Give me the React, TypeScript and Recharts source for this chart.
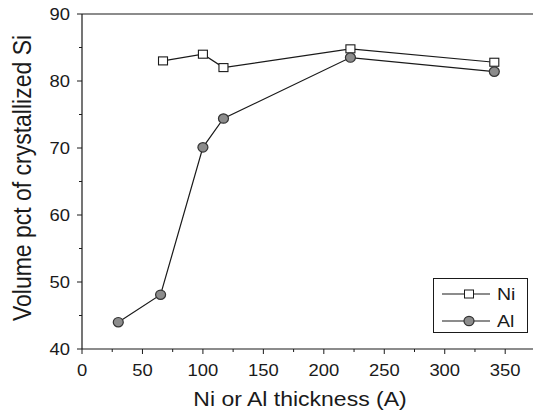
import React from 'react';
import { LineChart, Line, XAxis, YAxis, ReferenceLine, Label } from 'recharts';

const niThickness = [67, 100, 117, 222, 341];
const niVolume = [83.0, 84.0, 82.0, 84.8, 82.8];
const alThickness = [30, 65, 100, 117, 222, 341];
const alVolume = [44.0, 48.1, 70.1, 74.4, 83.5, 81.4];
const xTicks = [0, 25, 50, 75, 100, 125, 150, 175, 200, 225, 250, 275, 300, 325, 350];
const yTicks = [40, 45, 50, 55, 60, 65, 70, 75, 80, 85, 90];
const seriesNames = ['Ni', 'Al'];

const niData = niThickness.map((x, i) => ({ x, y: niVolume[i] }));
const alData = alThickness.map((x, i) => ({ x, y: alVolume[i] }));

const FONT = '"Liberation Sans", Arial, sans-serif';
const SX = 1.15; // the scan is stretched sideways a bit
const INK = '#1a1a1a';

const XTick = (props: any) => {
  const { x, y, payload } = props;
  const major = payload.value % 50 === 0;
  return (
    <g>
      <line x1={x} x2={x} y1={y} y2={y + (major ? 5 : 3)} stroke={INK} />
      {major && (
        <text transform={`translate(${x},${y + 27}) scale(${SX},1)`} textAnchor="middle" fontSize={16} fontFamily={FONT} fill={INK}>
          {payload.value}
        </text>
      )}
    </g>
  );
};

const YTick = (props: any) => {
  const { x, y, payload } = props;
  const major = payload.value % 10 === 0;
  return (
    <g>
      <line x1={x} x2={x - (major ? 5 : 3)} y1={y} y2={y} stroke={INK} />
      {major && (
        <text transform={`translate(${x - 12},${y + 6}) scale(${SX},1)`} textAnchor="end" fontSize={16} fontFamily={FONT} fill={INK}>
          {payload.value}
        </text>
      )}
    </g>
  );
};

const squareDot = (props: any) => (
  <rect key={`ni-${props.index}`} x={props.cx - 4.5} y={props.cy - 4} width={9} height={8} fill="#fff" stroke={INK} strokeWidth={1.1} />
);

const circleDot = (props: any) => (
  <ellipse key={`al-${props.index}`} cx={props.cx} cy={props.cy} rx={5} ry={4.7} fill="#8c8c8c" stroke="#333" strokeWidth={1.2} />
);

// legend box, drawn inside the svg
const LegendBox = () => (
  <g transform="translate(433,278)">
    <rect x={0.5} y={0.5} width={94} height={54} fill="#fff" stroke={INK} />
    <line x1={9} x2={57} y1={16} y2={16} stroke={INK} strokeWidth={1.2} />
    <rect x={31.5} y={12} width={9} height={8} fill="#fff" stroke={INK} />
    <text transform={`translate(64,22) scale(${SX},1)`} fontSize={17} fontFamily={FONT} fill={INK}>{seriesNames[0]}</text>
    <line x1={9} x2={57} y1={43} y2={43} stroke={INK} strokeWidth={1.2} />
    <ellipse cx={36} cy={43} rx={5} ry={4.7} fill="#8c8c8c" stroke="#333" strokeWidth={1.2} />
    <text transform={`translate(64,49) scale(${SX},1)`} fontSize={17} fontFamily={FONT} fill={INK}>{seriesNames[1]}</text>
  </g>
);

export default function App() {
  return (
    <div style={{ position: 'absolute', left: 0, top: 0, width: 533, height: 419, background: '#fff' }}>
      <LineChart width={533} height={419} margin={{ top: 14, right: 0, bottom: 0, left: 0 }}>
        <XAxis
          type="number"
          dataKey="x"
          domain={[0, 373]}
          ticks={xTicks}
          interval={0}
          allowDataOverflow
          height={70}
          tickSize={0}
          tickMargin={0}
          tickLine={false}
          axisLine={{ stroke: INK, strokeWidth: 1.2 }}
          tick={XTick}
        >
          <Label
            content={() => (
              <text transform={`translate(300,406) scale(${SX},1)`} textAnchor="middle" fontSize={20} fontFamily={FONT} fill={INK}>
                Ni or Al thickness (A)
              </text>
            )}
          />
        </XAxis>
        <YAxis
          type="number"
          domain={[40, 90]}
          ticks={yTicks}
          interval={0}
          width={82}
          tickSize={0}
          tickMargin={0}
          tickLine={false}
          axisLine={{ stroke: INK, strokeWidth: 1.2 }}
          tick={YTick}
        >
          <Label
            content={() => (
              <text transform={`translate(31,178) scale(${SX},1) rotate(-90)`} textAnchor="middle" fontSize={23} fontFamily={FONT} fill={INK}>
                Volume pct of crystallized Si
              </text>
            )}
          />
        </YAxis>
        <ReferenceLine y={90} stroke={INK} strokeWidth={1.2} />
        <Line data={niData} dataKey="y" name="Ni" stroke={INK} strokeWidth={1.2} dot={squareDot} isAnimationActive={false} />
        <Line data={alData} dataKey="y" name="Al" stroke={INK} strokeWidth={1.2} dot={circleDot} isAnimationActive={false} />
        <ReferenceLine y={40} stroke="none" label={<LegendBox />} />
      </LineChart>
    </div>
  );
}
